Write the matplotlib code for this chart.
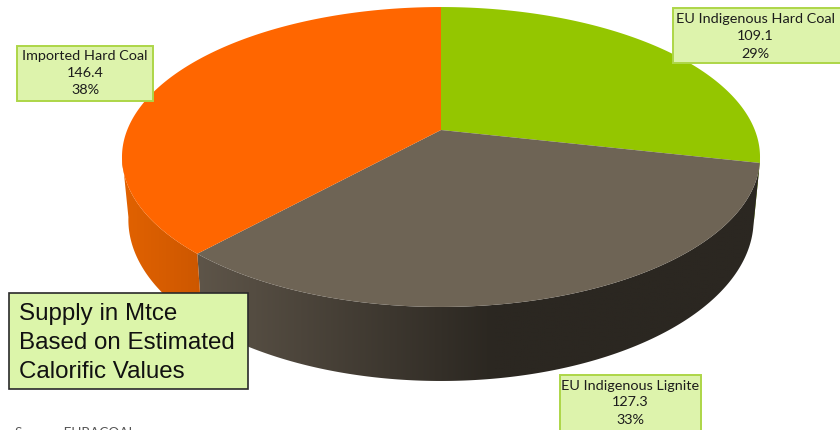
import numpy as np
import matplotlib
matplotlib.use('Agg')
import matplotlib.pyplot as plt
from matplotlib.colors import to_rgb
from matplotlib.patches import Polygon, Rectangle

# supply in Mtce, clockwise from the top of the pie
nomes = ['EU Indigenous Hard Coal', 'EU Indigenous Lignite', 'Imported Hard Coal']
valores = [109.1, 127.3, 146.4]
cores_topo = ['#94C600', '#6E6455', '#FF6600']
cores_lado_esq = ['#6F9500', '#5E5549', '#E26200']
cores_lado_dir = ['#6F9500', '#2B2721', '#CC5700']

# label box corners in pixels: x0, y0, x1, y1
caixas = [(672.5, 7.5, 845, 62.5), (559.5, 374.5, 701, 440), (16.5, 45.5, 153, 100.5)]
texto_x = [755.5, 630, 85]
texto_y = [(19, 36.5, 53.5), (385.5, 402.5, 420), (55.5, 73, 90)]

nota = ['Supply in Mtce', 'Based on Estimated', 'Calorific Values']
fonte = 'Source: EURACOAL'

# perspective of the disc
cx, cy = 441, 130
kv = -0.18
ax_u, ax_v = 313.8, 145.1
altura = 60.7
encolhe = 0.98


def projeta(theta, baixo=False):
    u = np.sin(theta)
    v = -np.cos(theta)
    d = 1 + kv * v
    if baixo:
        return cx + encolhe * ax_u * u / d, cy + (ax_v * v + altura) / d
    return cx + ax_u * u / d, cy + ax_v * v / d


fig = plt.figure(figsize=(8.4, 4.3), dpi=100)
ax = fig.add_axes([0, 0, 1, 1])

total = sum(valores)
fim = 2 * np.pi * np.cumsum(valores) / total
inicio = np.concatenate(([0], fim[:-1]))

# side wall: horizontal gradient clipped to the outline of each slice
# the front part starts at v = 0.16, where the wall edge touches the disc
for i in range(3):
    t = np.linspace(inicio[i], fim[i], 300)
    t = t[-np.cos(t) > 0.16]
    xs, ys = projeta(t)
    xb, yb = projeta(t, True)
    contorno = list(zip(xs, ys)) + list(zip(xb[::-1], yb[::-1]))
    borda = Polygon(contorno, closed=True, fc='none', ec='none', transform=ax.transData)
    ax.add_patch(borda)

    x0, x1 = min(xs.min(), xb.min()), max(xs.max(), xb.max())
    f = np.linspace(0, 1, 400)
    # lignite wall goes dark fast, the others are almost linear
    if i == 1:
        f = np.minimum(1, f * 1.9)
    esq = np.array(to_rgb(cores_lado_esq[i]))
    dir_ = np.array(to_rgb(cores_lado_dir[i]))
    grad = esq + (dir_ - esq) * f[:, None]
    img = ax.imshow(grad[None, :, :], extent=(x0, x1, ys.max() + 100, ys.min() - 10),
                    aspect='auto', interpolation='bilinear', zorder=1)
    img.set_clip_path(borda)

ax.set_xlim(0, 840)
ax.set_ylim(430, 0)
ax.axis('off')

# top of the pie
for i in range(3):
    t = np.linspace(inicio[i], fim[i], 200)
    xs, ys = projeta(t)
    pts = [(cx, cy)] + list(zip(xs, ys))
    ax.add_patch(Polygon(pts, closed=True, fc=cores_topo[i], ec='none', zorder=2))

# value labels
for i in range(3):
    x0, y0, x1, y1 = caixas[i]
    ax.add_patch(Rectangle((x0, y0), x1 - x0, y1 - y0, fc='#DDF3AC', ec='#ADD648',
                           lw=1.4, zorder=3))
    pct = '{:.0f}%'.format(100 * valores[i] / total)
    linhas = [nomes[i], '{:.1f}'.format(valores[i]), pct]
    for txt, yt in zip(linhas, texto_y[i]):
        ax.text(texto_x[i], yt, txt, family='Lato', fontsize=10.4, color='#1c1c1c',
                ha='center', va='center', zorder=4)

# note box
ax.add_patch(Rectangle((8.5, 293), 239, 96, fc='#DCF5AA', ec='#2A2A2A', lw=1.2, zorder=5))
for txt, yt in zip(nota, [314, 343, 371.5]):
    ax.text(19, yt, txt, family='Liberation Sans', fontsize=17.4, color='#111111',
            ha='left', va='center', zorder=6)

ax.text(15, 433, fonte, family='Lato', fontsize=9.8, color='#555555',
        ha='left', va='center', zorder=6)

fig.savefig('out.png', dpi=100)
